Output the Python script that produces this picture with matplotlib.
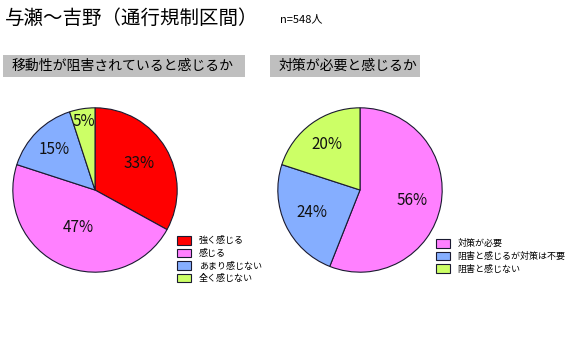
import matplotlib
matplotlib.use("Agg")
import matplotlib.pyplot as plt
from matplotlib.patches import Rectangle

plt.rcParams['font.family'] = ['Noto Sans CJK JP', 'DejaVu Sans']

title = "与瀬～吉野（通行規制区間）"
n_note = "n=548人"

q1_title = "移動性が阻害されていると感じるか"
q1_labels = ["強く感じる", "感じる", "あまり感じない", "全く感じない"]
q1_values = [33, 47, 15, 5]

q2_title = "対策が必要と感じるか"
q2_labels = ["対策が必要", "阻害と感じるが対策は不要", "阻害と感じない"]
q2_values = [56, 24, 20]

C_RED, C_PINK, C_BLUE, C_GREEN = "#FF0000", "#FF80FF", "#85AEFF", "#CCFF66"
q1_colors = [C_RED, C_PINK, C_BLUE, C_GREEN]
q2_colors = [C_PINK, C_BLUE, C_GREEN]

W, H = 568, 350
fig = plt.figure(figsize=(W / 100, H / 100), dpi=100)


def px_axes(x0, y0, w, h):
    # pixel box from top-left -> figure fraction
    return fig.add_axes([x0 / W, 1 - (y0 + h) / H, w / W, h / H])


def draw_pie(ax, values, colors, label_r):
    wedges, texts, autotexts = ax.pie(
        values, colors=colors, startangle=90, counterclock=False,
        autopct="%d%%", pctdistance=0.6, radius=1.0,
        wedgeprops=dict(edgecolor="#1a1a30", linewidth=0.8),
        textprops=dict(fontsize=11, color="#111111"))
    # excel-ish label placement, radial factor per slice
    for t, r in zip(autotexts, label_r):
        x, y = t.get_position()
        d = (x * x + y * y) ** 0.5
        t.set_position((x / d * r, y / d * r))
    ax.set_xlim(-1.01, 1.01)
    ax.set_ylim(-1.01, 1.01)
    ax.set_aspect("equal")
    ax.axis("off")
    return wedges


ax1 = px_axes(12, 107, 166, 166)
w1 = draw_pie(ax1, q1_values, q1_colors, [0.63, 0.5, 0.7, 0.85])
ax2 = px_axes(277, 107, 166, 166)
w2 = draw_pie(ax2, q2_values, q2_colors, [0.65, 0.64, 0.69])

# titles
fig.text(5 / W, 1 - 18 / H, title, fontsize=14, va="center", ha="left")
fig.text(280 / W, 1 - 19 / H, n_note, fontsize=8, va="center", ha="left")

for x0, x1, txt in [(3, 245, q1_title), (270, 420, q2_title)]:
    fig.patches.append(Rectangle((x0 / W, 1 - 77 / H), (x1 - x0) / W, 22 / H,
                                 transform=fig.transFigure, facecolor="#BFBFBF",
                                 edgecolor="none"))
    fig.text((x0 + 9) / W, 1 - 66 / H, txt, fontsize=10, va="center", ha="left")

leg_kw = dict(frameon=False, fontsize=6.5, handlelength=1.5, handleheight=1.1,
              handletextpad=0.9, labelspacing=0.35, borderpad=0, borderaxespad=0)
fig.legend(w1, q1_labels, loc="upper left",
           bbox_to_anchor=(177 / W, 1 - 236 / H), **leg_kw)
fig.legend(w2, q2_labels, loc="upper left",
           bbox_to_anchor=(436 / W, 1 - 239 / H), **leg_kw)

fig.savefig("out.png", dpi=100, facecolor="white")
